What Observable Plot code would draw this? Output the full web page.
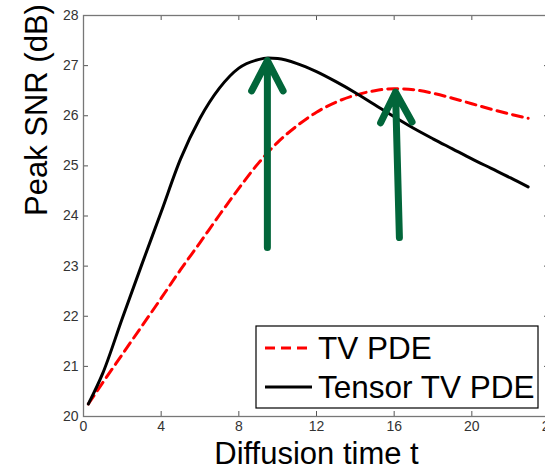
<!DOCTYPE html>
<html>
<head>
<meta charset="utf-8">
<script src="https://cdn.jsdelivr.net/npm/d3@7"></script>
<script src="https://cdn.jsdelivr.net/npm/@observablehq/plot@0.6"></script>
<style>
  html, body { margin: 0; padding: 0; background: #fff; overflow: hidden; }
  #chart { width: 545px; height: 471px; overflow: hidden; }
  #chart svg { max-width: none !important; height: 471px !important; }
</style>
</head>
<body>
<div id="chart"></div>
<script>
// Diffusion time t
const timeT = [0.25, 1, 2, 3, 4, 5, 6, 7, 8, 9, 9.5, 10, 11, 12, 13, 14, 15, 16, 17, 18, 19, 20, 21, 22, 22.9];
// Peak SNR (dB) of TV PDE (red dashed)
const tvPDE = [20.25, 20.68, 21.24, 21.8, 22.36, 22.93, 23.47, 24.02, 24.55, 25.05, 25.27, 25.47, 25.8, 26.07, 26.27, 26.41, 26.5, 26.54, 26.52, 26.45, 26.35, 26.24, 26.13, 26.03, 25.95];
// Peak SNR (dB) of Tensor TV PDE (black solid)
const tensorTVPDE = [20.25, 20.87, 21.96, 23.03, 24.08, 25.14, 25.95, 26.55, 26.95, 27.12, 27.15, 27.14, 27.04, 26.88, 26.68, 26.46, 26.22, 25.98, 25.75, 25.54, 25.34, 25.14, 24.95, 24.76, 24.58];
// Annotation arrows (pointing at the two peaks)
const arrowStartT = [9.47, 16.27];
const arrowStartSNR = [23.37, 23.57];
const arrowEndT = [9.47, 16.07];
const arrowEndSNR = [27.1, 26.47];
// Axes
const xTicks = [0, 4, 8, 12, 16, 20, 24];
const yTicks = [20, 21, 22, 23, 24, 25, 26, 27, 28];
const seriesNames = ["TV PDE", "Tensor TV PDE"];

const tvData = timeT.map((t, i) => ({t, v: tvPDE[i]}));
const tensorData = timeT.map((t, i) => ({t, v: tensorTVPDE[i]}));
const arrows = arrowStartT.map((x1, i) => ({x1, y1: arrowStartSNR[i], x2: arrowEndT[i], y2: arrowEndSNR[i]}));

const W = 552, H = 471, mL = 83, mT = 15, mB = 55, mR = 3;
const innerW = W - mL - mR, innerH = H - mT - mB;
const font = "'Liberation Sans', Arial, Helvetica, sans-serif";

const plot = Plot.plot({
  width: W, height: H,
  marginLeft: mL, marginTop: mT, marginBottom: mB, marginRight: mR,
  style: {fontFamily: font, background: "#fff", overflow: "visible", maxWidth: "none"},
  x: {domain: [0, 24], ticks: xTicks},
  y: {domain: [20, 28], ticks: yTicks},
  marks: [
    Plot.line(tvData, {x: "t", y: "v", stroke: "#ff0000", strokeWidth: 3, strokeDasharray: "10,6", curve: "monotone-x"}),
    Plot.line(tensorData, {x: "t", y: "v", stroke: "#000", strokeWidth: 3, curve: "monotone-x"}),
    Plot.arrow(arrows, {x1: "x1", y1: "y1", x2: "x2", y2: "y2", stroke: "#02663a", strokeWidth: 7, headLength: 7.3, headAngle: 55, strokeLinecap: "round", strokeLinejoin: "round"}),
    // inward ticks on all four sides
    Plot.tickX(xTicks, {x: d => d, insetTop: innerH - 5, stroke: "#555"}),
    Plot.tickX(xTicks, {x: d => d, insetBottom: innerH - 5, stroke: "#555"}),
    Plot.tickY(yTicks, {y: d => d, insetRight: innerW - 5, stroke: "#555"}),
    Plot.tickY(yTicks, {y: d => d, insetLeft: innerW - 5, stroke: "#555"}),
    Plot.frame({stroke: "#777", strokeWidth: 1.3}),
    Plot.axisX({ticks: xTicks, tickSize: 0, tickPadding: 5, fontSize: 14, color: "#333", label: null}),
    Plot.axisY({ticks: yTicks, tickSize: 0, tickPadding: 5, fontSize: 14, color: "#333", label: null}),
    Plot.text(["Diffusion time t"], {frameAnchor: "bottom", dy: 37.5, fontSize: 31, fill: "#000", lineAnchor: "middle"}),
    Plot.text(["Peak SNR (dB)"], {frameAnchor: "left", dx: -46, rotate: -90, fontSize: 31, fill: "#000", lineAnchor: "middle"})
  ]
});

// Legend box (MATLAB-style, inside the plot area)
const svg = d3.select(plot);
const lg = svg.append("g").attr("font-family", font).attr("text-anchor", "start");
lg.append("rect").attr("x", 256).attr("y", 326).attr("width", 282).attr("height", 82)
  .attr("fill", "#fff").attr("stroke", "#000").attr("stroke-width", 1.2);
const legendStyles = [
  {stroke: "#ff0000", dash: "10,6"},
  {stroke: "#000", dash: null}
];
seriesNames.forEach((name, i) => {
  const yy = 348 + i * 39;
  const ln = lg.append("line").attr("x1", 265).attr("x2", 312).attr("y1", yy).attr("y2", yy)
    .attr("stroke", legendStyles[i].stroke).attr("stroke-width", 3);
  if (legendStyles[i].dash) ln.attr("stroke-dasharray", legendStyles[i].dash);
  lg.append("text").attr("x", 318).attr("y", yy + 11).attr("font-size", 31.5)
    .attr("fill", "#000").attr("text-anchor", "start").text(name);
});

document.getElementById("chart").appendChild(plot);
</script>
</body>
</html>
